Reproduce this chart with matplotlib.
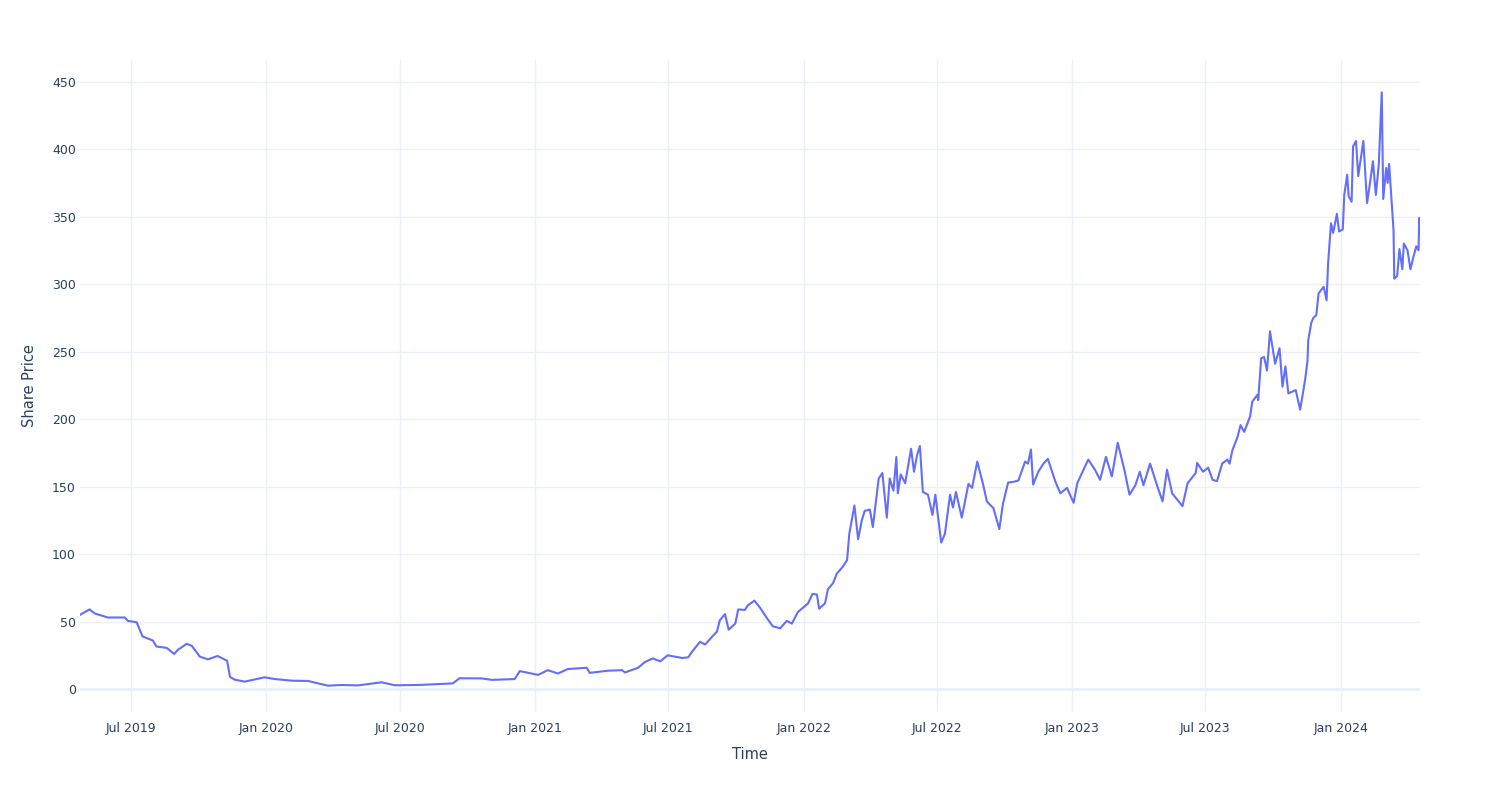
import numpy as np
import pandas as pd
import matplotlib
matplotlib.use('Agg')
import matplotlib.pyplot as plt
import matplotlib.dates as mdates

# share price readings (date, price)
dates = [
    '2019-04-23', '2019-05-06', '2019-05-13', '2019-05-31', '2019-06-23', '2019-06-27',
    '2019-07-09', '2019-07-17', '2019-07-31', '2019-08-05', '2019-08-19', '2019-08-29',
    '2019-09-03', '2019-09-15', '2019-09-22', '2019-10-03', '2019-10-14', '2019-10-27',
    '2019-11-09', '2019-11-13', '2019-11-19', '2019-12-03', '2019-12-30', '2020-01-13',
    '2020-02-05', '2020-02-27', '2020-03-25', '2020-04-13', '2020-05-05', '2020-06-06',
    '2020-06-24', '2020-07-26', '2020-09-11', '2020-09-20', '2020-10-20', '2020-11-03',
    '2020-12-04', '2020-12-11', '2021-01-05', '2021-01-18', '2021-02-01', '2021-02-14',
    '2021-03-12', '2021-03-16', '2021-04-10', '2021-04-29', '2021-05-03', '2021-05-21',
    '2021-05-30', '2021-06-10', '2021-06-20', '2021-06-30', '2021-07-20', '2021-07-28',
    '2021-08-02', '2021-08-13', '2021-08-20', '2021-08-29', '2021-09-05', '2021-09-09',
    '2021-09-16', '2021-09-21', '2021-09-30', '2021-10-04', '2021-10-13', '2021-10-17',
    '2021-10-26', '2021-11-03', '2021-11-12', '2021-11-20', '2021-11-30', '2021-12-09',
    '2021-12-16', '2021-12-24', '2022-01-07', '2022-01-13', '2022-01-19', '2022-01-22',
    '2022-01-30', '2022-02-03', '2022-02-10', '2022-02-15', '2022-02-23', '2022-03-01',
    '2022-03-04', '2022-03-11', '2022-03-16', '2022-03-21', '2022-03-25', '2022-04-01',
    '2022-04-05', '2022-04-13', '2022-04-18', '2022-04-24', '2022-04-28', '2022-05-03',
    '2022-05-07', '2022-05-09', '2022-05-13', '2022-05-19', '2022-05-27', '2022-05-31',
    '2022-06-04', '2022-06-08', '2022-06-12', '2022-06-19', '2022-06-25', '2022-06-29',
    '2022-07-07', '2022-07-12', '2022-07-19', '2022-07-23', '2022-07-27', '2022-08-04',
    '2022-08-13', '2022-08-18', '2022-08-25', '2022-09-02', '2022-09-07', '2022-09-16',
    '2022-09-24', '2022-09-29', '2022-10-06', '2022-10-13', '2022-10-20', '2022-10-29',
    '2022-11-02', '2022-11-06', '2022-11-09', '2022-11-16', '2022-11-23', '2022-11-29',
    '2022-12-09', '2022-12-16', '2022-12-25', '2023-01-03', '2023-01-08', '2023-01-16',
    '2023-01-23', '2023-02-01', '2023-02-08', '2023-02-16', '2023-02-24', '2023-03-04',
    '2023-03-13', '2023-03-20', '2023-03-28', '2023-04-03', '2023-04-08', '2023-04-17',
    '2023-04-27', '2023-05-04', '2023-05-10', '2023-05-17', '2023-05-31', '2023-06-07',
    '2023-06-18', '2023-06-20', '2023-06-28', '2023-07-05', '2023-07-11', '2023-07-17',
    '2023-07-24', '2023-07-31', '2023-08-03', '2023-08-07', '2023-08-14', '2023-08-18',
    '2023-08-23', '2023-08-31', '2023-09-03', '2023-09-10', '2023-09-11', '2023-09-15',
    '2023-09-19', '2023-09-23', '2023-09-27', '2023-10-04', '2023-10-10', '2023-10-14',
    '2023-10-18', '2023-10-22', '2023-11-01', '2023-11-07', '2023-11-10', '2023-11-14',
    '2023-11-17', '2023-11-18', '2023-11-22', '2023-11-25', '2023-11-29', '2023-12-02',
    '2023-12-09', '2023-12-13', '2023-12-15', '2023-12-19', '2023-12-22', '2023-12-27',
    '2023-12-30', '2024-01-04', '2024-01-06', '2024-01-10', '2024-01-12', '2024-01-16',
    '2024-01-18', '2024-01-22', '2024-01-25', '2024-02-01', '2024-02-06', '2024-02-09',
    '2024-02-14', '2024-02-18', '2024-02-22', '2024-02-26', '2024-02-28', '2024-03-03',
    '2024-03-05', '2024-03-07', '2024-03-13', '2024-03-14', '2024-03-18', '2024-03-21',
    '2024-03-25', '2024-03-27', '2024-04-01', '2024-04-05', '2024-04-09', '2024-04-13',
    '2024-04-16', '2024-04-17', '2024-04-18',
]
prices = [
    55, 59, 56, 53, 53, 50.5,
    49.5, 39, 36, 31.5, 30.5, 26,
    29, 33.5, 32, 24, 22, 24.5,
    21, 9, 7, 5.5, 8.7, 7.4,
    6.2, 6, 2.5, 3, 2.7, 5,
    2.8, 3, 4.2, 8, 7.9, 6.8,
    7.4, 13.3, 10.5, 14, 11.5, 14.8,
    15.8, 12, 13.6, 14, 12.3, 15.8,
    20, 22.7, 20.5, 25, 23, 23.5,
    27.5, 35, 33, 38.5, 42.5, 51,
    55.5, 44, 48.5, 59, 58.6, 62,
    65.5, 60, 52.5, 46.5, 45, 50.5,
    48.5, 57, 63.5, 70.5, 70, 59.5,
    63.5, 74, 78.5, 85.5, 90.5, 95.5,
    115, 136, 111, 125, 132, 133,
    120, 156, 160, 127, 156, 147,
    172, 145, 159, 152.5, 178, 161,
    173, 180, 146, 144, 129, 144,
    108.5, 115, 144, 134.5, 146, 127,
    152, 149, 168.5, 151.5, 139, 134,
    118.5, 137.5, 153, 153.5, 154.5, 168.5,
    167, 177.5, 151.5, 161, 167, 170.5,
    154, 145, 149, 138, 152.5, 162,
    170, 162.5, 155, 172, 157.5, 182.5,
    162.5, 144, 151, 161, 151, 167,
    150, 139, 162.5, 145, 135.5, 152.5,
    160, 167.5, 161, 164, 155, 154,
    167, 170, 167, 177, 187, 195.5,
    190.5, 202, 213, 218, 214, 245,
    246, 236, 265, 241, 252.5, 224,
    239, 219, 221.5, 207, 216.5, 230,
    243, 258, 271, 275, 277, 293,
    298, 288, 315, 345, 338, 352,
    339, 340.5, 366, 381, 365, 361,
    402, 406, 380, 406, 360, 371,
    391, 366, 389, 442, 363, 386,
    375, 389, 340, 304, 306, 326,
    311, 330, 325, 311, 320, 328,
    325, 349, 338,
]

x = pd.to_datetime(dates)
y = np.array(prices)

text_col = '#2a3f5f'
grid_col = '#ebf0f8'
plt.rcParams['font.family'] = ['DejaVu Sans']

fig = plt.figure(figsize=(15, 8), dpi=100)
ax = fig.add_axes([80 / 1500, 1 - 712 / 800, 1340 / 1500, 652 / 800])

ax.plot(x, y, color='#636efa', linewidth=1.5, zorder=3)

ax.set_xlim(pd.Timestamp('2019-04-23'), pd.Timestamp('2024-04-18'))
ax.set_ylim(-17, 466)
ax.set_yticks(np.arange(0, 451, 50))
ax.xaxis.set_major_locator(mdates.MonthLocator(bymonth=[1, 7]))
ax.xaxis.set_major_formatter(mdates.DateFormatter('%b %Y'))

ax.grid(True, color=grid_col, linewidth=1, zorder=0)
ax.axhline(0, color=grid_col, linewidth=2, zorder=1)
for s in ax.spines.values():
    s.set_visible(False)
ax.tick_params(axis='both', length=0, labelsize=9, labelcolor=text_col)
ax.tick_params(axis='x', pad=7)
ax.tick_params(axis='y', pad=3)

ax.set_xlabel('Time', fontsize=10.5, color=text_col, labelpad=9)
ax.set_ylabel('Share Price', fontsize=10.5, color=text_col, labelpad=11)

fig.savefig('out.png', dpi=100)
